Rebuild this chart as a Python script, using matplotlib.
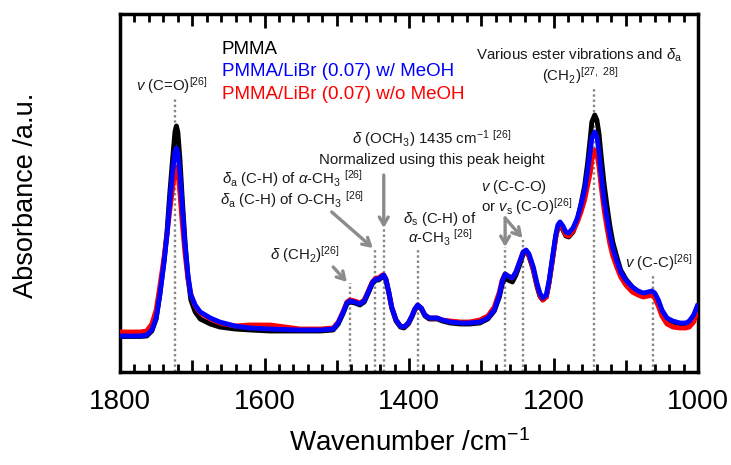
import numpy as np
import matplotlib
matplotlib.use("Agg")
from matplotlib import pyplot as plt

plt.rcParams['font.family'] = ['Liberation Sans', 'DejaVu Sans']
plt.rcParams['mathtext.fontset'] = 'custom'
plt.rcParams['mathtext.rm'] = 'Liberation Sans'
plt.rcParams['mathtext.it'] = 'Liberation Sans:italic'
plt.rcParams['mathtext.bf'] = 'Liberation Sans:bold'

# wavenumber grid (cm-1)
wn = [1800, 1786, 1772, 1763, 1756, 1750, 1745, 1739, 1735, 1731, 1727, 1724, 1722, 1720,
      1717, 1714, 1710, 1706, 1702, 1696, 1689, 1675, 1662, 1641, 1620, 1592, 1551, 1523,
      1505, 1498, 1491, 1486, 1482, 1475, 1468, 1462, 1457, 1451, 1446, 1442, 1437, 1435,
      1432, 1428, 1424, 1418, 1412, 1407, 1401, 1396, 1392, 1388, 1383, 1378, 1372, 1367,
      1361, 1354, 1343, 1329, 1316, 1302, 1291, 1282, 1275, 1271, 1267, 1263, 1257, 1252,
      1246, 1242, 1238, 1234, 1228, 1223, 1219, 1215, 1210, 1206, 1201, 1197, 1194, 1191,
      1187, 1183, 1179, 1173, 1167, 1162, 1157, 1153, 1149, 1147, 1143, 1140, 1137, 1134,
      1130, 1126, 1122, 1118, 1112, 1107, 1100, 1091, 1083, 1076, 1069, 1064, 1060, 1055,
      1050, 1043, 1035, 1025, 1017, 1012, 1006, 1001]

# PMMA/LiBr (0.07) w/ MeOH
blue = [0.36, 0.36, 0.36, 0.37, 0.42, 0.54, 0.77, 1.10, 1.37, 1.72, 2.02, 2.20, 2.24, 2.20,
        1.97, 1.67, 1.27, 0.97, 0.77, 0.67, 0.60, 0.54, 0.50, 0.46, 0.44, 0.43, 0.42, 0.42,
        0.43, 0.49, 0.60, 0.69, 0.71, 0.70, 0.68, 0.71, 0.79, 0.89, 0.93, 0.93, 0.96, 0.97,
        0.93, 0.80, 0.65, 0.52, 0.46, 0.45, 0.49, 0.56, 0.63, 0.67, 0.64, 0.57, 0.54, 0.54,
        0.54, 0.52, 0.50, 0.49, 0.49, 0.50, 0.54, 0.62, 0.77, 0.91, 0.98, 0.96, 0.94, 1.00,
        1.12, 1.20, 1.22, 1.18, 1.05, 0.89, 0.79, 0.74, 0.77, 0.92, 1.17, 1.37, 1.47, 1.50,
        1.46, 1.40, 1.39, 1.44, 1.54, 1.67, 1.82, 2.00, 2.22, 2.34, 2.40, 2.35, 2.20, 1.97,
        1.72, 1.54, 1.37, 1.24, 1.10, 1.00, 0.92, 0.85, 0.81, 0.79, 0.80, 0.81, 0.79, 0.72,
        0.62, 0.54, 0.51, 0.49, 0.49, 0.51, 0.57, 0.66]

# PMMA
black = [0.355, 0.355, 0.355, 0.36, 0.41, 0.53, 0.77, 1.12, 1.40, 1.80, 2.15, 2.40, 2.46, 2.40,
         2.12, 1.75, 1.30, 0.95, 0.72, 0.60, 0.53, 0.48, 0.45, 0.43, 0.42, 0.41, 0.41, 0.41,
         0.42, 0.48, 0.59, 0.68, 0.70, 0.69, 0.67, 0.70, 0.78, 0.88, 0.92, 0.92, 0.95, 0.96,
         0.92, 0.79, 0.64, 0.51, 0.45, 0.44, 0.48, 0.55, 0.62, 0.66, 0.63, 0.56, 0.53, 0.53,
         0.53, 0.51, 0.49, 0.48, 0.48, 0.49, 0.53, 0.61, 0.75, 0.88, 0.95, 0.92, 0.90, 0.97,
         1.09, 1.18, 1.20, 1.16, 1.02, 0.86, 0.76, 0.72, 0.75, 0.90, 1.15, 1.35, 1.44, 1.47,
         1.42, 1.36, 1.35, 1.40, 1.52, 1.68, 1.86, 2.08, 2.35, 2.50, 2.57, 2.52, 2.38, 2.15,
         1.88, 1.66, 1.46, 1.30, 1.14, 1.02, 0.93, 0.85, 0.80, 0.78, 0.79, 0.80, 0.78, 0.71,
         0.61, 0.53, 0.50, 0.48, 0.48, 0.50, 0.56, 0.65]

# PMMA/LiBr (0.07) w/o MeOH
red = [0.40, 0.40, 0.40, 0.41, 0.48, 0.62, 0.85, 1.15, 1.38, 1.62, 1.85, 2.02, 2.05, 2.00,
       1.78, 1.50, 1.18, 0.93, 0.78, 0.66, 0.59, 0.53, 0.49, 0.46, 0.47, 0.47, 0.43, 0.43,
       0.44, 0.50, 0.61, 0.70, 0.72, 0.71, 0.69, 0.72, 0.80, 0.90, 0.94, 0.94, 0.97, 0.97,
       0.93, 0.80, 0.65, 0.52, 0.46, 0.45, 0.49, 0.56, 0.63, 0.67, 0.64, 0.57, 0.54, 0.54,
       0.54, 0.52, 0.51, 0.50, 0.50, 0.52, 0.56, 0.65, 0.80, 0.92, 0.98, 0.96, 0.94, 1.00,
       1.12, 1.20, 1.21, 1.16, 1.03, 0.87, 0.77, 0.72, 0.75, 0.90, 1.14, 1.34, 1.45, 1.48,
       1.43, 1.37, 1.36, 1.41, 1.50, 1.60, 1.72, 1.86, 2.00, 2.12, 2.22, 2.18, 2.05, 1.85,
       1.62, 1.44, 1.28, 1.16, 1.04, 0.95, 0.87, 0.80, 0.77, 0.75, 0.76, 0.77, 0.74, 0.66,
       0.56, 0.48, 0.45, 0.44, 0.44, 0.45, 0.50, 0.60]

# assigned peaks: position and top of the dotted marker
mark_wn = [1724, 1482, 1447, 1435, 1388, 1267, 1242, 1144, 1063]
mark_top = [2.75, 0.89, 1.24, 1.44, 1.22, 1.25, 1.32, 2.85, 0.97]

fig = plt.figure(figsize=(7.31, 4.65), dpi=100)
ax = fig.add_axes([0.1642, 0.2, 0.7907, 0.7699])

for w, t in zip(mark_wn, mark_top):
    ax.plot([w, w], [0, t], color='#858585', lw=1.7, ls=(0, (1, 1.2)), zorder=1)

ax.plot(wn, black, color='black', lw=3.5, zorder=2)
ax.plot(wn, red, color='#ff0000', lw=3.5, zorder=3)
ax.plot(wn, blue, color='#0000ff', lw=3.5, zorder=4)

ax.set_xlim(1800, 1000)
ax.set_ylim(0, 3.58)
ax.set_yticks([])

ax.set_xticks(np.arange(1000, 1801, 100))
ax.set_xticklabels([str(v) if v % 200 == 0 else '' for v in range(1000, 1801, 100)])
ax.set_xticks(np.arange(1000, 1801, 20), minor=True)
ax.tick_params(axis='x', which='both', direction='in', top=True, bottom=True,
               width=2, labelsize=20, pad=12)
ax.tick_params(axis='x', which='major', length=10)
ax.tick_params(axis='x', which='minor', length=5.5)
for v, tk in zip(range(1000, 1801, 100), ax.xaxis.get_major_ticks()):
    if v % 200:
        tk.tick1line.set_markersize(8.5)
        tk.tick2line.set_markersize(8.5)
for s in ax.spines.values():
    s.set_linewidth(2.5)

fig.text(0.5596, 1 - 443 / 465, 'Wavenumber /cm$^{-1}$', fontsize=20, ha='center', va='center')
fig.text(26 / 731, 1 - 195 / 465, 'Absorbance /a.u.', fontsize=19.5, rotation=90,
         ha='center', va='center')

# legend written as coloured text
ax.text(1659, 3.22, 'PMMA', color='black', fontsize=13.5, va='center')
ax.text(1659, 3.00, 'PMMA/LiBr (0.07) w/ MeOH', color='#0000ff', fontsize=13.5, va='center')
ax.text(1659, 2.77, 'PMMA/LiBr (0.07) w/o MeOH', color='#ff0000', fontsize=13.5, va='center')

fs = 10.8
tc = '#1a1a1a'
ax.text(1728, 2.86, r'$\mathit{v}$ (C=O)$^{[26]}$', fontsize=fs, color=tc, ha='center', va='center')
ax.text(1165, 3.17, r'Various ester vibrations and $\mathit{\delta}_\mathrm{a}$', fontsize=fs,
        color=tc, ha='center', va='center')
ax.text(1163, 2.96, r'(CH$_2$)$^{[27,\ 28]}$', fontsize=fs, color=tc, ha='center', va='center')
ax.text(1368, 2.33, r'$\mathit{\delta}$ (OCH$_3$) 1435 cm$^{-1}$ $^{[26]}$', fontsize=fs,
        color=tc, ha='center', va='center')
ax.text(1368, 2.12, 'Normalized using this peak height', fontsize=fs, color=tc,
        ha='center', va='center')
ax.text(1562, 1.93, r'$\mathit{\delta}_\mathrm{a}$ (C-H) of $\mathit{\alpha}$-CH$_3$ $^{[26]}$',
        fontsize=fs, color=tc, ha='center', va='center')
ax.text(1562, 1.72, r'$\mathit{\delta}_\mathrm{a}$ (C-H) of O-CH$_3$ $^{[26]}$',
        fontsize=fs, color=tc, ha='center', va='center')
ax.text(1544, 1.17, r'$\mathit{\delta}$ (CH$_2$)$^{[26]}$', fontsize=fs, color=tc,
        ha='center', va='center')
ax.text(1357, 1.53, r'$\mathit{\delta}_\mathrm{s}$ (C-H) of', fontsize=fs, color=tc,
        ha='center', va='center')
ax.text(1357, 1.34, r'$\mathit{\alpha}$-CH$_3$ $^{[26]}$', fontsize=fs, color=tc,
        ha='center', va='center')
ax.text(1300, 1.85, r'$\mathit{v}$ (C-C-O)', fontsize=fs, color=tc, ha='left', va='center')
ax.text(1301, 1.65, r'or $\mathit{v}_\mathrm{s}$ (C-O)$^{[26]}$', fontsize=fs, color=tc,
        ha='left', va='center')
ax.text(1055, 1.09, r'$\mathit{v}$ (C-C)$^{[26]}$', fontsize=fs, color=tc, ha='center', va='center')

arrow = dict(arrowstyle='->,head_length=0.55,head_width=0.32', color='#8c8c8c', lw=2.4,
             shrinkA=0, shrinkB=0)
ax.annotate('', xy=(1435, 1.44), xytext=(1435, 1.97), arrowprops=arrow)
ax.annotate('', xy=(1450, 1.24), xytext=(1507, 1.60), arrowprops=arrow)
ax.annotate('', xy=(1486, 0.90), xytext=(1505, 1.05), arrowprops=arrow)
ax.annotate('', xy=(1267, 1.25), xytext=(1267, 1.54), arrowprops=arrow)
ax.annotate('', xy=(1243, 1.34), xytext=(1267, 1.54), arrowprops=arrow)

fig.savefig('out.png', dpi=100)
